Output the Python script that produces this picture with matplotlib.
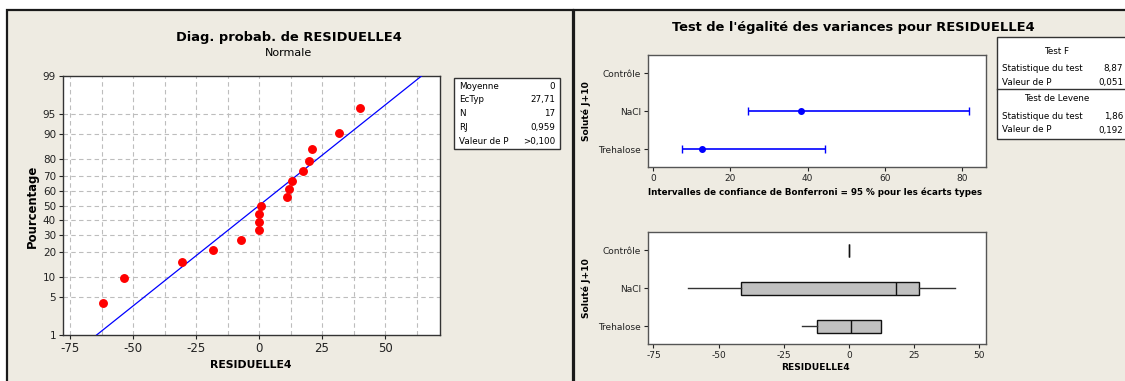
import matplotlib
matplotlib.use("Agg")
import matplotlib.pyplot as plt
from matplotlib.patches import Rectangle
from statistics import NormalDist
import numpy as np

# ---------------- data ----------------
residuals = [-62.1, -53.6, -30.6, -18.1, -7.3, 0.0, 0.0, 0.0, 0.8,
             11.1, 11.9, 13.1, 17.3, 19.7, 20.9, 31.7, 39.9]
fit_mean = 0.0
fit_sd = 27.71
pct_ticks = [1, 5, 10, 20, 30, 40, 50, 60, 70, 80, 90, 95, 99]
x_ticks_left = [-75, -50, -25, 0, 25, 50]

stat_labels = ["Moyenne", "EcTyp", "N", "RJ", "Valeur de P"]
stat_values = ["0", "27,71", "17", "0,959", ">0,100"]

groups = ["Contrôle", "NaCl", "Trehalose"]
ci_sigma = [np.nan, 38.2, 12.7]
ci_low = [np.nan, 24.6, 7.5]
ci_high = [np.nan, 81.7, 44.6]
ci_ticks = [0, 20, 40, 60, 80]

box_whislo = [0.0, -61.8, -17.9]
box_q1 = [0.0, -41.6, -12.2]
box_med = [0.0, 17.8, 0.9]
box_q3 = [0.0, 27.0, 12.3]
box_whishi = [0.0, 40.8, 12.3]
box_ticks = [-75, -50, -25, 0, 25, 50]

test_rows = [("Test F", None), ("Statistique du test", "8,87"), ("Valeur de P", "0,051"),
             ("Test de Levene", None), ("Statistique du test", "1,86"), ("Valeur de P", "0,192")]

# ---------------- figure ----------------
W, H = 1125, 381
BG = "#EEEBE2"
plt.rcParams["font.family"] = ["DejaVu Sans"]
fig = plt.figure(figsize=(W / 100, H / 100), dpi=100)
fig.patch.set_facecolor("white")


def px_axes(x0, y0, x1, y1):
    return fig.add_axes([x0 / W, 1 - y1 / H, (x1 - x0) / W, (y1 - y0) / H])


bg = fig.add_axes([0, 0, 1, 1])
bg.set_xlim(0, W)
bg.set_ylim(H, 0)
bg.axis("off")
bg.add_patch(Rectangle((7, 10), 566, 400, facecolor=BG, edgecolor="#1a1a1a", lw=1.6))
bg.add_patch(Rectangle((574, 10), 600, 400, facecolor=BG, edgecolor="#1a1a1a", lw=1.6))

# ---------------- left: normal probability plot ----------------
nd = NormalDist()
ax = px_axes(63, 76, 440, 335)
ax.set_facecolor("white")
n = len(residuals)
xs = np.sort(np.array(residuals))
ranks = np.arange(1, n + 1)
zs = [nd.inv_cdf((r - 0.3) / (n + 0.4)) for r in ranks]
zlo, zhi = nd.inv_cdf(0.01), nd.inv_cdf(0.99)
ax.plot([fit_mean + fit_sd * zlo, fit_mean + fit_sd * zhi], [zlo, zhi],
        color="#0000FF", lw=0.9, zorder=3)
ax.plot(xs, zs, "o", color="#FF0000", ms=5.4, zorder=4, mec="#FF0000")
ax.set_ylim(zlo, zhi)
ax.set_xlim(-77.8, 71.8)
ax.set_yticks([nd.inv_cdf(p / 100) for p in pct_ticks])
ax.set_yticklabels([str(p) for p in pct_ticks], fontsize=7.5)
ax.set_xticks(x_ticks_left)
ax.set_xticklabels([str(v) for v in x_ticks_left], fontsize=8.5)
ax.set_xticks(np.arange(-75, 72, 12.5), minor=True)
ax.tick_params(axis="x", which="minor", length=0)
ax.tick_params(axis="both", which="major", length=3, width=0.8, colors="#222222", pad=2)
for v in np.arange(-75, 72, 12.5):
    ax.axvline(v, color="#BDBDBD", lw=0.8, ls=(0, (4, 3)), zorder=1)
for p in pct_ticks[1:-1]:
    ax.axhline(nd.inv_cdf(p / 100), color="#BDBDBD", lw=0.8, ls=(0, (4, 3)), zorder=1)
for s in ax.spines.values():
    s.set_color("#333333")
    s.set_linewidth(1.0)

bg.text(289, 37, "Diag. probab. de RESIDUELLE4", ha="center", va="center",
        fontsize=9.4, fontweight="bold")
bg.text(288, 53, "Normale", ha="center", va="center", fontsize=8)
bg.text(32, 206, "Pourcentage", ha="center", va="center", rotation=90,
        fontsize=8.4, fontweight="bold")
bg.text(251, 365, "RESIDUELLE4", ha="center", va="center", fontsize=7.8, fontweight="bold")

# stats box left
bg.add_patch(Rectangle((454, 78), 106, 71, facecolor="white", edgecolor="#333333", lw=1.0))
row_y = [86.7, 99.9, 113.5, 127.3, 141.3]
for lab, val, yy in zip(stat_labels, stat_values, row_y):
    bg.text(459, yy, lab, ha="left", va="center", fontsize=6.3)
    bg.text(555, yy, val, ha="right", va="center", fontsize=6.3)

# ---------------- right top: confidence intervals ----------------
ypos = [1, 2, 3]
axc = px_axes(648, 55, 986, 167)
axc.set_facecolor("white")
for yv, s, lo, hi in zip(ypos, ci_sigma, ci_low, ci_high):
    if np.isnan(s):
        continue
    axc.errorbar([s], [yv], xerr=[[s - lo], [hi - s]], fmt="o", color="#0000FF",
                 ms=4, lw=1.2, capsize=3, capthick=1.0)
axc.set_ylim(3.46, 0.52)
axc.set_xlim(-1.3, 86.2)
axc.set_yticks(ypos)
axc.set_yticklabels(groups, fontsize=6.5)
axc.set_xticks(ci_ticks)
axc.set_xticklabels([str(v) for v in ci_ticks], fontsize=6.5)
axc.tick_params(length=3, width=0.8, colors="#222222", pad=2)
for s in axc.spines.values():
    s.set_color("#555555")
    s.set_linewidth(1.0)

# ---------------- right bottom: boxplots ----------------
axb = px_axes(648, 232, 986, 344)
axb.set_facecolor("white")
stats = []
for g, wl, q1, md, q3, wh in zip(groups, box_whislo, box_q1, box_med, box_q3, box_whishi):
    stats.append(dict(label=g, whislo=wl, q1=q1, med=md, q3=q3, whishi=wh, fliers=[]))
axb.bxp(stats, positions=ypos, widths=0.35, orientation="horizontal", patch_artist=True,
        showcaps=False, showfliers=False,
        boxprops=dict(facecolor="#C0C0C0", edgecolor="#111111", lw=1.0),
        medianprops=dict(color="#111111", lw=1.0),
        whiskerprops=dict(color="#333333", lw=1.0))
axb.set_ylim(3.46, 0.52)
axb.set_xlim(-77.1, 52.5)
axb.set_yticks(ypos)
axb.set_yticklabels(groups, fontsize=6.5)
axb.set_xticks(box_ticks)
axb.set_xticklabels([str(v) for v in box_ticks], fontsize=6.5)
axb.tick_params(length=3, width=0.8, colors="#222222", pad=2)
for s in axb.spines.values():
    s.set_color("#555555")
    s.set_linewidth(1.0)

bg.text(853, 27, "Test de l'égalité des variances pour RESIDUELLE4", ha="center",
        va="center", fontsize=9.4, fontweight="bold")
bg.text(586, 111, "Soluté J+10", ha="center", va="center", rotation=90,
        fontsize=6.6, fontweight="bold")
bg.text(586, 288, "Soluté J+10", ha="center", va="center", rotation=90,
        fontsize=6.6, fontweight="bold")
bg.text(815, 192, "Intervalles de confiance de Bonferroni = 95 % pour les écarts types",
        ha="center", va="center", fontsize=6.3, fontweight="bold")
bg.text(815, 367, "RESIDUELLE4", ha="center", va="center", fontsize=6.6, fontweight="bold")

# test box right
bg.add_patch(Rectangle((997, 37), 140, 102, facecolor="white", edgecolor="#333333", lw=1.0))
bg.plot([997, 1125], [89.3, 89.3], color="#333333", lw=1.0)
trow_y = [51.7, 68.3, 82.3, 98.7, 116.7, 130.0]
for (lab, val), yy in zip(test_rows, trow_y):
    if val is None:
        bg.text(1057, yy, lab, ha="center", va="center", fontsize=6.3)
    else:
        bg.text(1002, yy, lab, ha="left", va="center", fontsize=6.3)
        bg.text(1123, yy, val, ha="right", va="center", fontsize=6.3)

fig.savefig("out.png", dpi=100, facecolor=fig.get_facecolor())
